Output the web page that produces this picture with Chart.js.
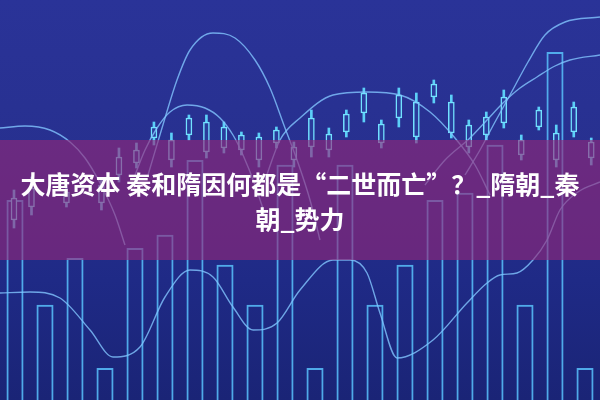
<!DOCTYPE html>
<html lang="zh-CN">
<head>
<meta charset="utf-8">
<script src="https://cdn.jsdelivr.net/npm/chart.js@4/dist/chart.umd.min.js"></script>
<style>
html,body{margin:0;padding:0;width:600px;height:400px;overflow:hidden;background:#1f2a85;}
#wrap{position:relative;width:600px;height:400px;background:linear-gradient(180deg,#2a3398 0%,#27308f 40%,#1f2a86 70%,#1a2476 100%);}
#c{position:absolute;left:0;top:0;}
#band{position:absolute;left:0;top:140px;width:600px;height:120px;background:rgba(148,38,120,0.62);}
#title{position:absolute;left:0;top:166px;width:600px;text-align:center;color:#fff;font-family:"Noto Sans CJK SC","Noto Sans",sans-serif;font-weight:700;font-size:25px;line-height:35px;}
</style>
</head>
<body>
<div id="wrap">
<canvas id="c" width="600" height="400"></canvas>
<div id="band"></div>
<div id="title">大唐资本 秦和隋因何都是“二世而亡”？_隋朝_秦<br>朝_势力</div>
</div>
<script>
// Volume bars (20 periods)
const volumeLabels = ['1','2','3','4','5','6','7','8','9','10','11','12','13','14','15','16','17','18','19','20'];
const volumeValues = [50, 23.8, 35.5, 8, 38, 41.3, 60, 33.8, 23.8, 58.8, 8, 58.8, 23.8, 33.8, 50, 51.8, 63.8, 23.8, 87, 8];

// Candlesticks (34 periods, null = not visible)
const candleIndex = [0,1,2,3,4,5,6,7,8,9,10,11,12,13,14,15,16,17,18,19,20,21,22,23,24,25,26,27,28,29,30,31,32,33];
const candleHigh  = [52.5,55.75,null,53,null,55.5,63,64.25,69.5,66.75,71.25,71.25,69.5,67,66.75,68.25,64.5,72.5,68,72.5,78,70,78,76.75,80,76.25,70,72,77.5,66.25,73.25,68.75,74.5,65.5];
const candleOpen  = [50.5,53,null,52,null,53.75,60.75,62.5,68.25,65,70.5,69.5,68.25,66.25,65.75,67.5,63.25,70.5,66.5,71.5,76.75,69,76.25,74.5,79,74.5,68.75,70.75,75.75,65,72.5,66.75,73.25,64.5];
const candleClose = [45,48.25,null,49.25,null,49.25,56.25,59.25,65.5,60,66.25,62,63,62.5,60,64.25,60,63.25,62.5,67,71.75,64.25,70.5,65.75,75.75,66.75,63.25,66.25,69.25,61.25,68.25,60,67,60.5];
const candleLow   = [43,46.25,null,48.25,null,47.5,54.5,58,63.75,58.25,65,60.5,61.75,61.25,58.25,63,58.25,60.75,60.75,65.75,69.5,63,68.25,64.25,74.25,65.5,61.75,65,68,60,67.5,58.25,65.75,58.75];

// Trend curves (x: 0-100 time axis, y: 0-100 value axis)
const curve1X = [0,5,10,15,18.83,23.33,27.5,31.67,35.5,38.83,42.17,46.17,50,55.5,58.33,61.17,63.33,66.17,72.17,77.83,81.17,83.33,86.17,88.83,91.17,93.33,96.33,100];
const curve1Y = [26.75,27,25.5,17.5,10.75,13.25,25.75,32.5,30.75,23.25,17.5,19.25,27.5,35,35,31.75,21.75,10.5,15,24.25,29.25,31.25,31.75,35,40,47.5,52,54.5];
const curve2X = [0,4.17,8.33,11.67,14.17,16.67,19.17,20.83];
const curve2Y = [68,68.5,67.5,64.5,60.5,54.25,46.25,38.75];
const curve3X = [24.67,27.5,29.5,31.67,35.5,39.17,42.5,45,47.5,49.5,51.67,53.33];
const curve3Y = [56.25,70.5,80,87.5,91.75,90.5,85,78,68,60,50,40];
const curve4X = [22.5,24.17,26.17,28.33,31.17,34.17,36.67,38.83,40.5,42.5,44.17];
const curve4Y = [56.25,62.5,68,72,73.75,73,70.5,66.25,61.25,53.75,46.25];
const curve5X = [44.17,46.67,50,55.5,61.17,66.67,71.67,75.83,79.17,81.67];
const curve5Y = [55,65,70.5,76.25,77,76.25,72,65.5,58.75,51.25];
const curve6X = [70.83,74.17,78.33,81.17,83.83,86.67,89.5,92.5,95,100];
const curve6Y = [53.75,60,65.5,70,74.25,78,80.75,83.5,85,86.25];
const curve7X = [77.5,80,82.5,85,88,90.83,94.17,100];
const curve7Y = [56.25,62.5,69.5,76.25,84.5,91.25,94.5,95.75];

const bodies = [], wicks = [];
candleIndex.forEach((x, i) => {
  if (candleOpen[i] == null) return;
  bodies.push({x: x, y: [candleClose[i], candleOpen[i]]});
  wicks.push({x: x, y: [candleLow[i], candleHigh[i]]});
});

function curve(xs, ys) {
  return {
    type: 'line', xAxisID: 'xl', yAxisID: 'y', order: 0,
    data: xs.map((x, i) => ({x: x, y: ys[i]})),
    borderColor: 'rgba(130,198,255,0.8)', borderWidth: 1.4,
    pointRadius: 0, fill: false, cubicInterpolationMode: 'monotone'
  };
}

new Chart(document.getElementById('c'), {
  type: 'bar',
  data: {
    labels: volumeLabels,
    datasets: [
      curve(curve1X, curve1Y), curve(curve2X, curve2Y), curve(curve3X, curve3Y),
      curve(curve4X, curve4Y), curve(curve5X, curve5Y), curve(curve6X, curve6Y),
      curve(curve7X, curve7Y),
      {
        type: 'bar', xAxisID: 'xc', yAxisID: 'y', order: 1, grouped: false,
        data: bodies, barThickness: 6,
        backgroundColor: '#2a3c9c', borderColor: '#72e2ff', borderWidth: 1.5, borderSkipped: false
      },
      {
        type: 'bar', xAxisID: 'xc', yAxisID: 'y', order: 2, grouped: false,
        data: wicks, barThickness: 2,
        backgroundColor: '#5ccff8', borderWidth: 0
      },
      {
        type: 'bar', xAxisID: 'x', yAxisID: 'y', order: 3, grouped: false,
        data: volumeValues, barPercentage: 0.57, categoryPercentage: 1,
        backgroundColor: 'rgba(0,0,0,0)', borderColor: 'rgba(85,185,245,0.9)', borderWidth: 2
      }
    ]
  },
  options: {
    responsive: false, animation: false,
    layout: {padding: 0},
    plugins: {legend: {display: false}, tooltip: {enabled: false}, title: {display: false}},
    scales: {
      x: {type: 'category', display: false, offset: true},
      xc: {type: 'linear', display: false, offset: false, min: -0.8, max: 33.5},
      xl: {type: 'linear', display: false, offset: false, min: 0, max: 100},
      y: {display: false, min: 0, max: 100}
    }
  }
});
</script>
</body>
</html>
